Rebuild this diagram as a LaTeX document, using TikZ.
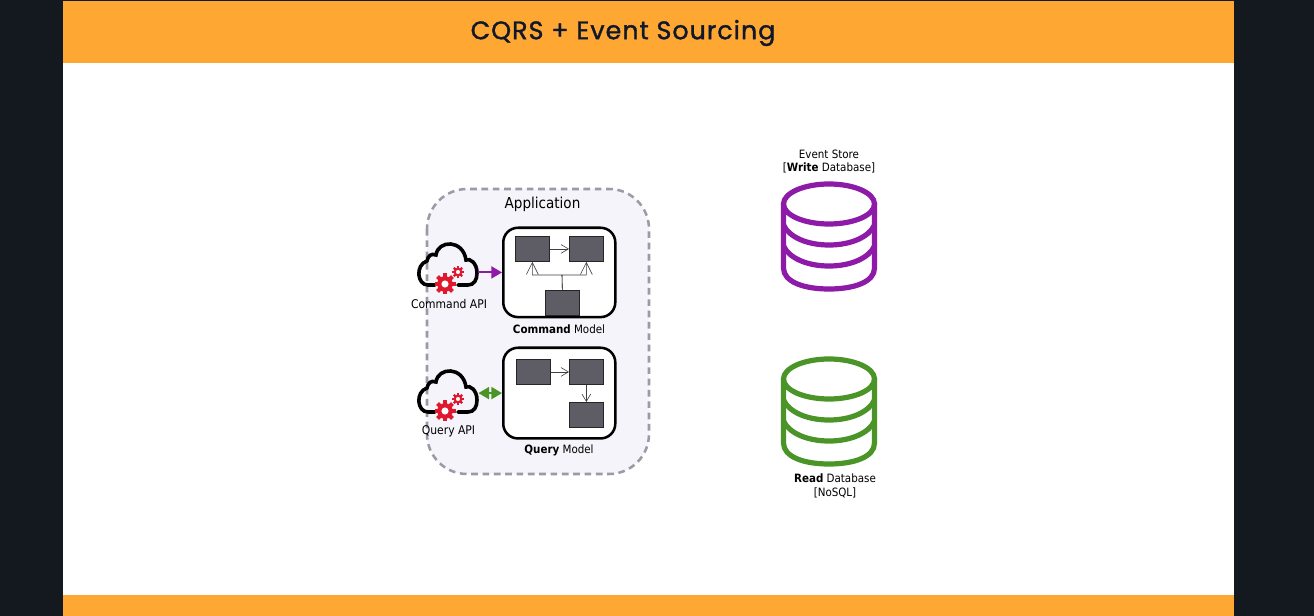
\documentclass[tikz,border=0pt]{standalone}
\usepackage{fontspec}
\setmainfont{DejaVu Sans Condensed}
\newfontfamily\titlefont[LetterSpace=4,FakeBold=1.4]{Poppins}
\usetikzlibrary{arrows.meta,positioning}

\definecolor{pagedark}{HTML}{14191F}
\definecolor{banner}{HTML}{FFA733}
\definecolor{titleink}{HTML}{10182B}
\definecolor{groupfill}{HTML}{F4F4FA}
\definecolor{groupline}{HTML}{9D9AA8}
\definecolor{boxfill}{HTML}{5E5C64}
\definecolor{writecol}{HTML}{8E1AA8}
\definecolor{readcol}{HTML}{4A9428}
\definecolor{gearred}{HTML}{E0182D}

\tikzset{
    every node/.style={font=\fontsize{8.6}{10.4}\selectfont, inner sep=0pt, align=center},
    modelbox/.style={draw=black, line width=1.9pt, fill=white, rounded corners=11pt, anchor=north west},
    partbox/.style={draw=black!85, line width=0.6pt, fill=boxfill, minimum width=25.4pt, minimum height=18.8pt, anchor=north west},
    link/.style={draw=black!75, line width=0.45pt, -{Straight Barb[length=5.5pt,width=6.5pt]}},
    lift/.style={draw=black!75, line width=0.45pt, -{Straight Barb[length=9pt,width=9pt]}},
    api/.style={-{Triangle[length=8pt,width=9pt]}, line width=1.5pt, shorten >=0pt},
    dbline/.style={line width=3.9pt},
    % cloud with the two gears, origin at the top of the big lobe
    apicloud/.pic={
        \draw[line width=2.7pt, line cap=round, black]
            (-15,42) -- (-22,42)
            .. controls (-33,42) and (-35,22) .. (-23,18)
            .. controls (-22,13) and (-19,10) .. (-14,12)
            .. controls (-12,-3) and (13,-4) .. (16,17)
            .. controls (20,15) and (27,20) .. (27,30)
            .. controls (27,37) and (24,42) .. (18,42) -- (8,42);
        \foreach \cx/\cy/\rr in {-5/41/10.5, 8/29/6} {
            \foreach \a in {0,45,...,315}
                \fill[gearred, rotate around={\a:(\cx,\cy)}]
                    (\cx-0.2*\rr,\cy) rectangle (\cx+0.2*\rr,\cy-\rr);
            \fill[gearred] (\cx,\cy) circle[radius=0.74*\rr];
            \fill[white] (\cx,\cy) circle[radius=0.34*\rr];
        }
    },
    % three stacked discs, origin at the centre of the top ellipse
    dbstack/.pic={
        \draw[dbline, pic actions] (0,0) ellipse[x radius=45.5, y radius=20];
        \draw[dbline, pic actions, line cap=round]
            (-45.5,0) -- (-45.5,64) .. controls (-45.5,78) and (-25,85) .. (0,85)
            .. controls (25,85) and (45.5,78) .. (45.5,64) -- (45.5,0);
        \foreach \yy in {21,42}
            \draw[dbline, pic actions]
                (-45.5,\yy) .. controls (-40,\yy+12) and (-22,\yy+20) .. (0,\yy+20)
                .. controls (22,\yy+20) and (40,\yy+12) .. (45.5,\yy);
    }
}

\begin{document}
\begin{tikzpicture}[x=0.75pt, y=-0.75pt]

\useasboundingbox (0,0) rectangle (1314,616);

% --- Page ---
\fill[pagedark] (0,0) rectangle (1314,616);
\fill[white] (63,63) rectangle (1234,595);
\fill[banner] (63,1) rectangle (1234,63.5);
\fill[banner] (63,595) rectangle (1234,616);
\node[font=\titlefont\fontsize{19}{20}\selectfont, text=titleink] (title) at (623,33) {CQRS + Event Sourcing};

% --- Application group ---
\draw[draw=groupline, fill=groupfill, line width=1.9pt, dash pattern=on 5pt off 3.5pt, rounded corners=30pt]
    (427,189) rectangle (649,474);
\node[font=\fontsize{11.3}{12}\selectfont] (appTitle) at (542.5,204) {Application};

% --- Command side ---
\node[modelbox, minimum width=84pt, minimum height=67pt] (cmdModel) at (502,226.5) {};
\node[partbox] (cmdA) at (515,236) {};
\node[partbox] (cmdB) at (569,236) {};
\node[partbox] (cmdC) at (545,290) {};
\coordinate (cmdJoin) at (562,275);
\draw[link] (cmdA) -- (cmdB);
\draw[lift] (cmdC.north) -- (cmdJoin) -| (cmdA.south);
\draw[lift] (cmdC.north) -- (cmdJoin) -| (cmdB.south);
\node (cmdModelLabel) at (559,329) {\textbf{Command} Model};

\pic at (450,243) {apicloud};
\node[minimum width=46pt, minimum height=33pt] (cmdCloud) at (447.5,264) {};
\node[font=\fontsize{9}{10.5}\selectfont] (cmdApiLabel) at (449,304.5) {Command API};
\draw[api, writecol] (cmdCloud.east |- cmdModel.west) -- (cmdModel.west);

% --- Query side ---
\node[modelbox, minimum width=84pt, minimum height=68pt] (qryModel) at (502,346.5) {};
\node[partbox] (qryA) at (516,359) {};
\node[partbox] (qryB) at (569,359) {};
\node[partbox] (qryC) at (569,402) {};
\draw[link] (qryA) -- (qryB);
\draw[link] (qryB) -- (qryC);
\node (qryModelLabel) at (559,450) {\textbf{Query} Model};

\pic at (450,370) {apicloud};
\node[minimum width=46pt, minimum height=33pt] (qryCloud) at (447.5,391) {};
\node[font=\fontsize{9}{10.5}\selectfont] (qryApiLabel) at (448.5,431) {Query API};
\draw[{Triangle[length=8pt,width=9pt]}-{Triangle[length=8pt,width=9pt]}, line width=1.5pt, readcol]
    (cmdCloud.east |- qryModel.west) -- (qryModel.west);

% --- Databases ---
\pic[draw=writecol] at (829,204) {dbstack};
\node (writeDbLabel) at (829,161.5) {Event Store\\{}[\textbf{Write} Database]};
\pic[draw=readcol] at (829,379) {dbstack};
\node (readDbLabel) at (835,485.5) {\textbf{Read} Database\\{}[NoSQL]};

\end{tikzpicture}
\end{document}
